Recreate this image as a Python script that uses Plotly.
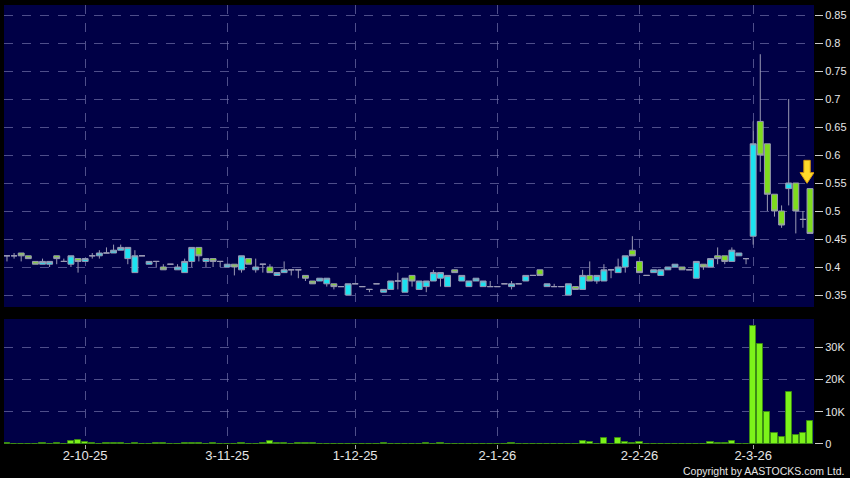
import plotly.graph_objects as go
from plotly.subplots import make_subplots

# ---------------- data ----------------
OPEN = [0.42, 0.42, 0.425, 0.42, 0.41, 0.405, 0.405, 0.42, 0.41, 0.405,
        0.415, 0.41, 0.42, 0.42, 0.425, 0.425, 0.43, 0.415, 0.39, 0.42,
        0.405, 0.41, 0.40, 0.405, 0.395, 0.39, 0.41, 0.435, 0.41, 0.415,
        0.41, 0.40, 0.405, 0.395, 0.415, 0.395, 0.405, 0.40, 0.385, 0.39,
        0.395, 0.395, 0.385, 0.375, 0.375, 0.37, 0.37, 0.365, 0.35, 0.37,
        0.365, 0.36, 0.37, 0.355, 0.36, 0.375, 0.355, 0.385, 0.36, 0.365,
        0.375, 0.38, 0.365, 0.395, 0.375, 0.365, 0.375, 0.365, 0.365, 0.365,
        0.37, 0.365, 0.37, 0.375, 0.385, 0.395, 0.365, 0.365, 0.365, 0.35,
        0.365, 0.36, 0.385, 0.375, 0.375, 0.395, 0.39, 0.40, 0.43, 0.41,
        0.385, 0.39, 0.385, 0.395, 0.40, 0.40, 0.395, 0.38, 0.405, 0.40,
        0.42, 0.42, 0.41, 0.42, 0.415, 0.455, 0.66, 0.62, 0.53, 0.50,
        0.54, 0.55, 0.485, 0.54]
HIGH = [0.42, 0.425, 0.425, 0.42, 0.41, 0.415, 0.41, 0.42, 0.415, 0.42,
        0.415, 0.415, 0.425, 0.43, 0.435, 0.44, 0.44, 0.435, 0.43, 0.42,
        0.41, 0.41, 0.405, 0.405, 0.405, 0.415, 0.435, 0.435, 0.415, 0.415,
        0.41, 0.405, 0.405, 0.42, 0.415, 0.415, 0.405, 0.405, 0.39, 0.41,
        0.395, 0.395, 0.385, 0.375, 0.38, 0.38, 0.37, 0.365, 0.37, 0.37,
        0.365, 0.36, 0.37, 0.36, 0.375, 0.39, 0.38, 0.385, 0.375, 0.375,
        0.395, 0.39, 0.385, 0.395, 0.385, 0.375, 0.38, 0.375, 0.375, 0.365,
        0.37, 0.375, 0.37, 0.385, 0.385, 0.395, 0.37, 0.37, 0.365, 0.37,
        0.365, 0.395, 0.41, 0.385, 0.405, 0.395, 0.415, 0.42, 0.455, 0.41,
        0.385, 0.395, 0.395, 0.40, 0.405, 0.40, 0.395, 0.41, 0.405, 0.415,
        0.435, 0.42, 0.435, 0.425, 0.415, 0.66, 0.78, 0.62, 0.53, 0.51,
        0.70, 0.55, 0.50, 0.54]
LOW = [0.41, 0.415, 0.41, 0.415, 0.405, 0.405, 0.40, 0.405, 0.41, 0.40,
       0.39, 0.41, 0.415, 0.415, 0.425, 0.425, 0.43, 0.405, 0.39, 0.42,
       0.405, 0.40, 0.395, 0.405, 0.395, 0.39, 0.40, 0.41, 0.40, 0.40,
       0.40, 0.40, 0.385, 0.39, 0.405, 0.39, 0.39, 0.39, 0.385, 0.39,
       0.385, 0.38, 0.375, 0.37, 0.375, 0.365, 0.36, 0.365, 0.35, 0.37,
       0.365, 0.355, 0.37, 0.355, 0.36, 0.36, 0.355, 0.365, 0.36, 0.355,
       0.375, 0.365, 0.365, 0.39, 0.375, 0.365, 0.375, 0.365, 0.365, 0.365,
       0.37, 0.36, 0.37, 0.375, 0.385, 0.385, 0.365, 0.365, 0.365, 0.35,
       0.36, 0.36, 0.375, 0.37, 0.375, 0.38, 0.39, 0.39, 0.42, 0.39,
       0.385, 0.39, 0.385, 0.395, 0.40, 0.395, 0.395, 0.38, 0.395, 0.40,
       0.405, 0.405, 0.41, 0.42, 0.405, 0.44, 0.57, 0.50, 0.49, 0.47,
       0.51, 0.46, 0.47, 0.46]
CLOSE = [0.42, 0.42, 0.42, 0.415, 0.405, 0.41, 0.41, 0.415, 0.41, 0.42,
         0.41, 0.415, 0.42, 0.425, 0.425, 0.43, 0.435, 0.435, 0.42, 0.42,
         0.41, 0.41, 0.395, 0.405, 0.40, 0.41, 0.435, 0.42, 0.415, 0.41,
         0.41, 0.405, 0.40, 0.42, 0.405, 0.40, 0.405, 0.39, 0.39, 0.395,
         0.395, 0.395, 0.38, 0.37, 0.38, 0.38, 0.365, 0.365, 0.37, 0.37,
         0.365, 0.36, 0.37, 0.36, 0.375, 0.375, 0.38, 0.375, 0.375, 0.375,
         0.39, 0.39, 0.385, 0.39, 0.385, 0.375, 0.38, 0.375, 0.365, 0.365,
         0.37, 0.37, 0.37, 0.385, 0.385, 0.385, 0.37, 0.365, 0.365, 0.37,
         0.36, 0.385, 0.375, 0.385, 0.395, 0.395, 0.40, 0.42, 0.42, 0.39,
         0.385, 0.395, 0.395, 0.40, 0.405, 0.395, 0.395, 0.41, 0.40, 0.415,
         0.415, 0.41, 0.43, 0.425, 0.415, 0.62, 0.60, 0.53, 0.50, 0.475,
         0.55, 0.50, 0.485, 0.46]
VOLUME = [200, 0, 0, 0, 0, 200, 0, 200, 0, 1000,
          1250, 700, 300, 0, 200, 200, 200, 0, 200, 0,
          0, 200, 200, 0, 0, 400, 200, 200, 0, 200,
          0, 0, 0, 200, 0, 0, 300, 1000, 200, 200,
          0, 200, 200, 200, 0, 0, 0, 0, 0, 0,
          0, 0, 0, 200, 0, 0, 0, 0, 0, 200,
          0, 200, 0, 0, 0, 0, 0, 0, 0, 0,
          0, 400, 0, 0, 0, 0, 0, 0, 0, 0,
          0, 800, 600, 0, 1900, 0, 1900, 600, 400, 700,
          0, 0, 0, 0, 0, 0, 0, 0, 0, 600,
          400, 400, 800, 0, 0, 36600, 31000, 10000, 3500, 2300,
          16000, 2700, 3400, 7100]
TICK_INDEX = [11, 31, 49, 69, 89, 105]
TICK_LABELS = ["2-10-25", "3-11-25", "1-12-25", "2-1-26", "2-2-26", "2-3-26"]
PRICE_TICKS = [0.35, 0.4, 0.45, 0.5, 0.55, 0.6, 0.65, 0.7, 0.75, 0.8, 0.85]
VOLUME_TICKS = [0, 10000, 20000, 30000]
VOLUME_LABELS = ["0", "10K", "20K", "30K"]

# ---------------- style ----------------
BG = "#000046"
GRID = "rgba(120,120,175,0.65)"
WICK = "#9A9AB4"
UP = "#1CE2F0"
DOWN = "#7EDC1E"
VOLC = "#7CF21A"
TXT = "#E6E6E6"
FONT = "Liberation Sans, Arial, sans-serif"

IDX = list(range(len(OPEN)))
n = len(OPEN)

fig = make_subplots(rows=2, cols=1, shared_xaxes=True)

fig.add_trace(go.Candlestick(
    x=IDX, open=OPEN, high=HIGH, low=LOW, close=CLOSE,
    increasing=dict(line=dict(color=WICK, width=1), fillcolor=UP),
    decreasing=dict(line=dict(color=WICK, width=1), fillcolor=DOWN),
    whiskerwidth=0, showlegend=False, hoverinfo="skip"), row=1, col=1)

fig.add_trace(go.Bar(
    x=IDX, y=VOLUME, width=0.86,
    marker=dict(color=VOLC, line=dict(color="#3C8C14", width=1)),
    showlegend=False, hoverinfo="skip"), row=2, col=1)

xr = [-0.42, n - 1 + 0.56]
common_x = dict(range=xr, tickvals=TICK_INDEX, showgrid=True, gridcolor=GRID,
                griddash="dash", gridwidth=1, zeroline=False, showline=False,
                automargin=False)
fig.update_layout(
    width=850, height=478,
    margin=dict(l=4, r=36, t=5, b=34),
    paper_bgcolor="black", plot_bgcolor=BG,
    font=dict(family=FONT, color=TXT, size=11),
    bargap=0, boxgap=0.17, boxgroupgap=0,
    xaxis=dict(**common_x, showticklabels=False, ticks="",
               rangeslider=dict(visible=False)),
    xaxis2=dict(**common_x, ticktext=TICK_LABELS, ticks="outside", ticklen=4,
                tickcolor="#AAAAAA", ticklabelstandoff=-5,
                tickfont=dict(size=13, color=TXT, family=FONT)),
    yaxis=dict(domain=[0.3121, 1.0], side="right", range=[0.3286, 0.8679],
               tickvals=PRICE_TICKS, ticktext=[f"{v:g}" for v in PRICE_TICKS],
               ticks="outside", ticklen=8, tickcolor="#CCCCCC", automargin=False,
               showgrid=True, gridcolor=GRID, griddash="dash", zeroline=False,
               tickfont=dict(size=11, color=TXT, family=FONT)),
    yaxis2=dict(domain=[0.0, 0.2847], side="right", range=[0, 38750],
                tickvals=VOLUME_TICKS, ticktext=VOLUME_LABELS, automargin=False,
                ticks="outside", ticklen=8, tickcolor="#CCCCCC",
                showgrid=True, gridcolor=GRID, griddash="dash", zeroline=False,
                tickfont=dict(size=11, color=TXT, family=FONT)),
)

# down arrow marking the latest session
xc = IDX[-1] - 0.42
tip = OPEN[-1] + 0.0095
base = tip + 0.019
top = tip + 0.041
hw, sw = 0.98, 0.45
path = (f"M {xc-sw},{top} L {xc+sw},{top} L {xc+sw},{base} L {xc+hw},{base} "
        f"L {xc},{tip} L {xc-hw},{base} L {xc-sw},{base} Z")
fig.add_shape(type="path", path=path, xref="x", yref="y",
              fillcolor="#FFDA2A", line=dict(color="#D89A10", width=1))

fig.add_annotation(text="Copyright by AASTOCKS.com Ltd.", xref="paper", yref="paper",
                   x=1, y=0, xanchor="right", yanchor="middle", xshift=32, yshift=-27,
                   showarrow=False, font=dict(size=10.5, color=TXT, family=FONT))

fig.write_html("out.html", config={"displayModeBar": False},
               post_script="document.body.style.margin='0';")
